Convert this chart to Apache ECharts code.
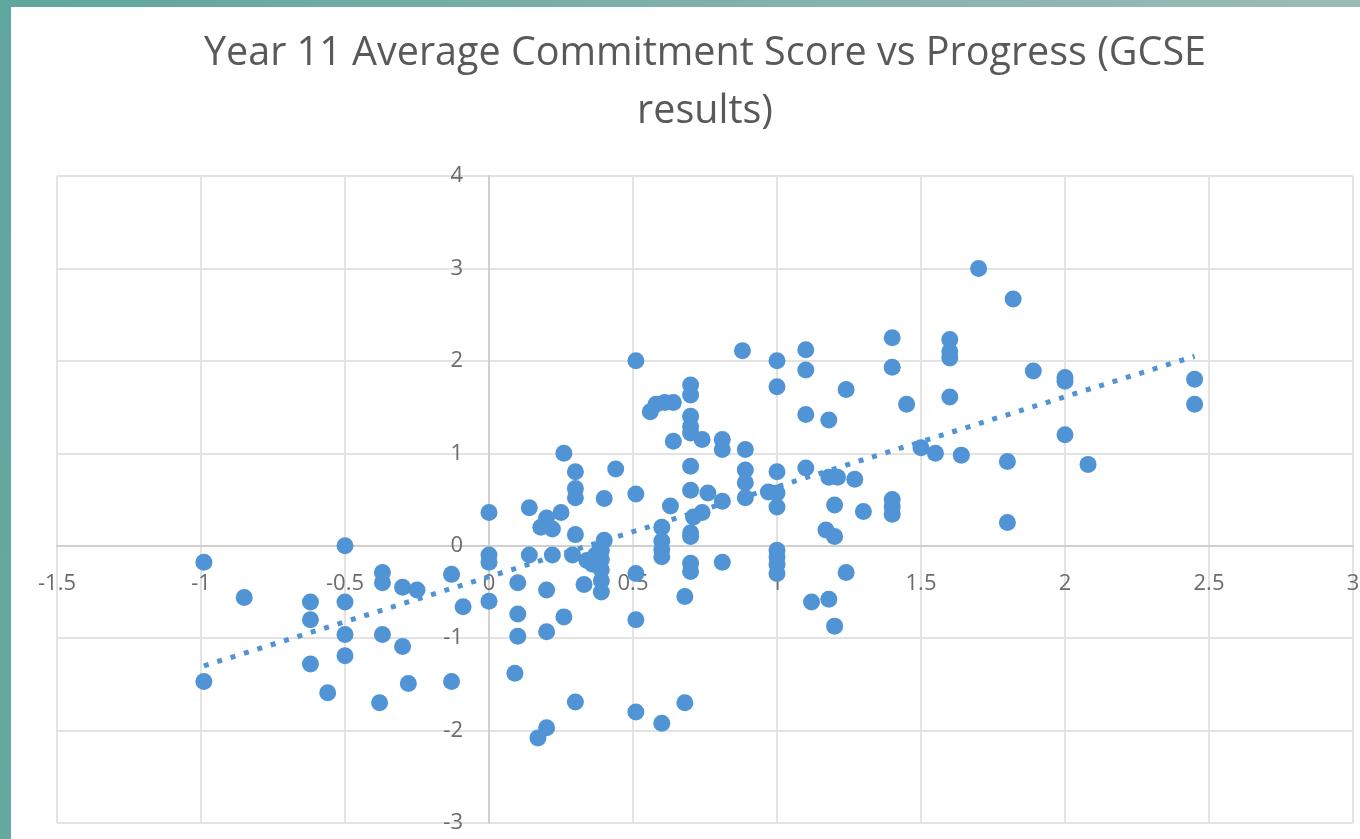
<!DOCTYPE html>
<html>
<head>
<meta charset="utf-8">
<script src="https://cdn.jsdelivr.net/npm/echarts@6/dist/echarts.min.js"></script>
<style>
	html, body { margin: 0; padding: 0; }
	body {
		width: 1360px; height: 839px; position: relative; overflow: hidden;
		background: linear-gradient(100deg, #5fa69e 0%, #7fb0aa 45%, #a3bdb9 100%);
	}
	#chart { position: absolute; left: 11px; top: 7px; width: 1349px; height: 832px; background: #fff; }
</style>
</head>
<body>
<div id="chart"></div>
<script>
// Progress (x) and average commitment score (y)
var progress = [
	-0.99, -0.99, -0.85, -0.62, -0.62, -0.62, -0.56, -0.5, -0.5, -0.5, -0.5, -0.38, -0.37, -0.37, -0.37,
	-0.3, -0.3, -0.28, -0.25, -0.13, -0.13, -0.09,
	0, 0, 0, 0,
	0.14, 0.26, 0.3, 0.3, 0.3, 0.25, 0.2, 0.18, 0.22, 0.4, 0.44, 0.3, 0.4, 0.14, 0.22, 0.29, 0.34,
	0.39, 0.39, 0.39, 0.39, 0.39, 0.33, 0.1, 0.2, 0.1, 0.1, 0.2, 0.26, 0.09, 0.3, 0.2, 0.17, 0.36, 0.37,
	0.51, 0.51, 0.51, 0.51, 0.51, 0.56, 0.58, 0.61, 0.64, 0.7, 0.7, 0.7, 0.7, 0.7, 0.74, 0.64, 0.81,
	0.81, 0.89, 0.88, 0.7, 0.7, 0.76, 0.81, 0.63, 0.71, 0.74, 0.7, 0.7, 0.89, 0.89, 0.89, 0.6, 0.6,
	0.6, 0.6, 0.7, 0.7, 0.81, 0.6, 0.68, 0.68,
	1.0, 1.0, 1.0, 1.0, 1.0, 0.97, 1.0, 1.0, 1.0, 1.0,
	1.1, 1.1, 1.1, 1.1, 1.18, 1.24, 1.18, 1.21, 1.27, 1.2, 1.3, 1.4, 1.4, 1.4, 1.4, 1.4, 1.17, 1.2,
	1.24, 1.12, 1.18, 1.2, 1.45,
	1.5, 1.55, 1.64, 1.6, 1.6, 1.6, 1.6, 1.7, 1.82, 1.8, 1.8, 1.89, 2.0, 2.0, 2.0, 2.08, 2.45, 2.45
];
var commitment = [
	-0.18, -1.47, -0.56, -0.61, -0.8, -1.28, -1.59, 0.0, -0.61, -0.96, -1.19, -1.7, -0.29, -0.4, -0.96,
	-0.45, -1.09, -1.49, -0.48, -0.31, -1.47, -0.66,
	0.36, -0.1, -0.18, -0.6,
	0.41, 1.0, 0.8, 0.62, 0.52, 0.36, 0.3, 0.2, 0.18, 0.51, 0.83, 0.12, 0.06, -0.1, -0.1, -0.1, -0.16,
	-0.05, -0.15, -0.26, -0.38, -0.5, -0.42, -0.4, -0.48, -0.74, -0.98, -0.93, -0.77, -1.38, -1.69, -1.97, -2.08, -0.2, -0.1,
	2.0, 0.56, -0.3, -0.8, -1.8, 1.45, 1.53, 1.55, 1.55, 1.74, 1.63, 1.4, 1.29, 1.22, 1.15, 1.13, 1.15,
	1.04, 1.04, 2.11, 0.86, 0.6, 0.57, 0.48, 0.43, 0.31, 0.36, 0.14, 0.1, 0.82, 0.68, 0.52, 0.2, 0.05,
	-0.04, -0.12, -0.19, -0.28, -0.18, -1.92, -1.7, -0.55,
	2.0, 1.72, 0.8, 0.57, 0.42, 0.58, -0.05, -0.12, -0.2, -0.3,
	2.12, 1.9, 1.42, 0.84, 1.36, 1.69, 0.74, 0.74, 0.72, 0.44, 0.37, 2.25, 1.93, 0.5, 0.42, 0.34, 0.17, 0.1,
	-0.29, -0.61, -0.58, -0.87, 1.53,
	1.06, 1.0, 0.98, 2.23, 2.1, 2.03, 1.61, 3.0, 2.67, 0.91, 0.25, 1.89, 1.82, 1.78, 1.2, 0.88, 1.8, 1.53
];
// linear trendline end points
var trendX = [-0.99, 2.45];
var trendY = [-1.3, 2.05];

var points = [];
for(var i = 0; i < progress.length; i++) {
	points.push([progress[i], commitment[i]]);
}
var trend = [];
for(var j = 0; j < trendX.length; j++) {
	trend.push([trendX[j], trendY[j]]);
}

var xMin = -1.5, xMax = 3, yMin = -3, yMax = 4;
var gridL = 46, gridR = 7, gridT = 169, gridB = 16;
var W = 1349, H = 832;
// shift each axis onto the other's zero line
var xOffset = -(H - gridT - gridB) * (0 - yMin) / (yMax - yMin);
var yOffset = -(W - gridL - gridR) * (0 - xMin) / (xMax - xMin);

var blue = '#5094d6';
var grey = '#6b6b6b';
var gridLine = { show: true, lineStyle: { color: '#e3e3e3', width: 2 } };
var labelFont = { fontSize: 22, fontFamily: 'Open Sans', color: grey };

var chart = echarts.init(document.getElementById('chart'));
chart.setOption({
	animation: false,
	backgroundColor: '#fff',
	title: {
		text: 'Year 11 Average Commitment Score vs Progress (GCSE\nresults)',
		left: 689,
		top: 13,
		textAlign: 'center',
		textStyle: {
			fontFamily: 'Open Sans',
			fontWeight: 'normal',
			fontSize: 39.5,
			lineHeight: 58,
			color: '#595959'
		}
	},
	grid: { left: gridL, right: gridR, top: gridT, bottom: gridB, containLabel: false, outerBoundsMode: 'none' },
	xAxis: {
		type: 'value',
		min: xMin, max: xMax, interval: 0.5,
		position: 'bottom',
		offset: xOffset,
		axisLine: { onZero: false, lineStyle: { color: '#d0d0d0', width: 2 } },
		axisTick: { show: false },
		axisLabel: Object.assign({ margin: 27, showMinLabel: true, showMaxLabel: true }, labelFont),
		splitLine: gridLine
	},
	yAxis: {
		type: 'value',
		min: yMin, max: yMax, interval: 1,
		position: 'left',
		offset: yOffset,
		axisLine: { show: true, onZero: false, lineStyle: { color: '#d0d0d0', width: 2 } },
		axisTick: { show: false },
		axisLabel: Object.assign({ margin: 26 }, labelFont),
		splitLine: gridLine
	},
	series: [{
		type: 'scatter',
		data: points,
		symbolSize: 17,
		itemStyle: { color: blue, opacity: 1 }
	}, {
		type: 'line',
		data: trend,
		symbol: 'none',
		z: 3,
		lineStyle: { color: blue, width: 5, type: [5, 9], cap: 'butt' }
	}]
});
</script>
</body>
</html>
